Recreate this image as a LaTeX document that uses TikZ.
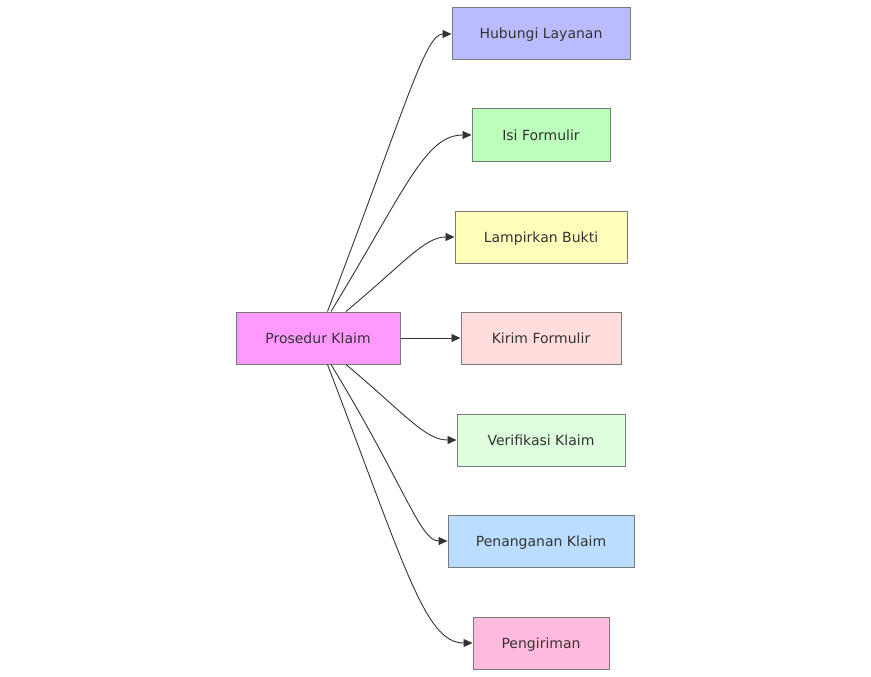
\documentclass[tikz,border=0pt]{standalone}
\usepackage{fontspec}
\setmainfont{DejaVu Sans}
\usetikzlibrary{arrows.meta,calc}
\definecolor{txt}{HTML}{333333}
\definecolor{bord}{HTML}{7A7A7A}
\definecolor{edge}{HTML}{333333}
\tikzset{
  box/.style={draw=bord, line width=1pt, minimum height=52pt, inner sep=0pt,
    text height=10pt, text depth=0pt,
    text=txt, font=\fontsize{14pt}{16pt}\selectfont},
  link/.style={draw=edge, line width=0.9pt, -{Triangle[length=9pt,width=8pt]}}
}
\begin{document}
\begin{tikzpicture}[x=1pt,y=-1pt]
\useasboundingbox (0,0) rectangle (871,677);
\node[box, fill={rgb,255:red,255;green,153;blue,255}, minimum width=164pt] (p) at (318,338) {Prosedur Klaim};
\node[box, fill={rgb,255:red,187;green,187;blue,255}, minimum width=178pt] (a) at (541,34) {Hubungi Layanan};
\node[box, fill={rgb,255:red,187;green,255;blue,187}, minimum width=138pt] (b) at (541,135) {Isi Formulir};
\node[box, fill={rgb,255:red,255;green,255;blue,187}, minimum width=172pt] (c) at (541,237) {Lampirkan Bukti};
\node[box, fill={rgb,255:red,255;green,221;blue,221}, minimum width=160pt] (d) at (541,338) {Kirim Formulir};
\node[box, fill={rgb,255:red,221;green,255;blue,221}, minimum width=168pt] (e) at (541,440) {Verifikasi Klaim};
\node[box, fill={rgb,255:red,187;green,221;blue,255}, minimum width=186pt] (f) at (541,541) {Penanganan Klaim};
\node[box, fill={rgb,255:red,255;green,187;blue,221}, minimum width=136pt] (g) at (541,643) {Pengiriman};
\coordinate (sa) at ($(p.north)+(9.5,0)$);
\coordinate (sb) at ($(p.north)+(13,0)$);
\coordinate (sc) at ($(p.north)+(28,0)$);
\coordinate (se) at ($(p.south)+(28,0)$);
\coordinate (sf) at ($(p.south)+(13,0)$);
\coordinate (sg) at ($(p.south)+(9.5,0)$);
\draw[link] (sa) .. controls (405,109) and (425,34) .. (a.west);
\draw[link] (sb) .. controls (405,190) and (425,135) .. (b.west);
\draw[link] (sc) .. controls (405,262) and (425,237) .. (c.west);
\draw[link] (p.east) -- (d.west);
\draw[link] (se) .. controls (405,414) and (425,440) .. (e.west);
\draw[link] (sf) .. controls (405,486) and (420,541) .. (f.west);
\draw[link] (sg) .. controls (405,567) and (425,643) .. (g.west);
\end{tikzpicture}
\end{document}
